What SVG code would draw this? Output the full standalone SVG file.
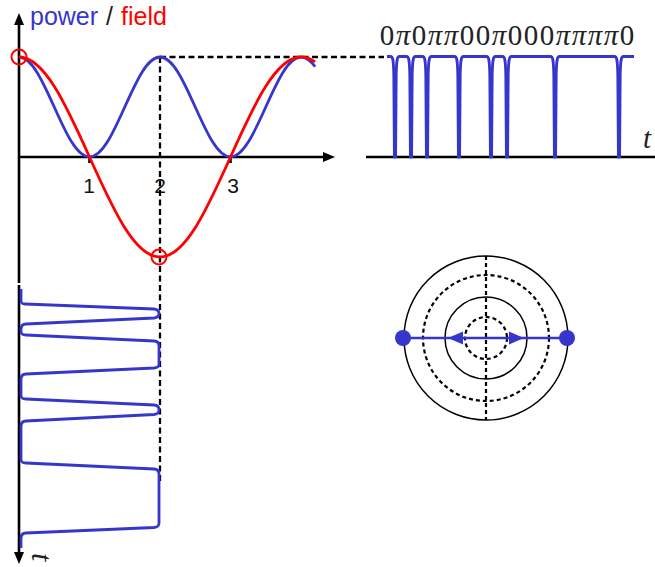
<svg xmlns="http://www.w3.org/2000/svg" width="655" height="567" viewBox="0 0 655 567">
<style>
.axis{stroke:#000;stroke-width:2.6;fill:none}
.arr{fill:#000;stroke:none}
.dash{stroke:#000;stroke-width:2.3;stroke-dasharray:6 3.5;fill:none}
.blue{stroke:#3636cc;stroke-width:2.8;fill:none;stroke-linejoin:round}
.red{stroke:#ff0000;stroke-width:2.8;fill:none}
.thin{stroke:#000;stroke-width:1.5;fill:none}
.tdash{stroke:#000;stroke-width:2.2;stroke-dasharray:4 3;fill:none}
.sans{font-family:"Liberation Sans",Arial,sans-serif}
.math{font-family:"Liberation Serif","Times New Roman",serif;font-size:29px;fill:#222;text-anchor:middle}
.pi{font-style:italic}
.tick{font-family:"Liberation Sans",Arial,sans-serif;font-size:21px;fill:#111;text-anchor:middle}
</style>
<rect width="655" height="567" fill="#fff"/>

<g id="axes">
  <line class="axis" x1="19" y1="283" x2="19" y2="22"/>
  <polygon class="arr" points="19,13 14,25 24,25"/>
  <line class="axis" x1="19" y1="157" x2="326" y2="157"/>
  <polygon class="arr" points="335,157 323,152 323,162"/>
  <line class="axis" x1="366" y1="157" x2="655" y2="157"/>
  <line class="axis" x1="19" y1="285" x2="19" y2="555"/>
  <polygon class="arr" points="19,564 14,552 24,552"/>
  <line class="axis" x1="89.5" y1="157" x2="89.5" y2="163" stroke-width="1.5"/>
  <line class="axis" x1="230.5" y1="157" x2="230.5" y2="163" stroke-width="1.5"/>
  <text class="tick" x="89" y="193">1</text>
  <text class="tick" x="160" y="193">2</text>
  <text class="tick" x="233" y="193">3</text>
  <text class="math" x="647" y="148" font-style="italic" font-size="31">t</text>
  <text font-family="Liberation Serif, serif" font-style="italic" font-size="30" fill="#222" transform="translate(32,553) rotate(90)">t</text>
</g>

<g id="title">
  <text class="sans" font-size="25" y="25"><tspan x="30" fill="#3636cc">power</tspan><tspan x="106" fill="#222">/</tspan><tspan x="121" fill="#ff0000">field</tspan></text>
</g>

<g id="connectors">
  <line class="dash" x1="160" y1="57" x2="384" y2="57"/>
  <line class="dash" x1="160" y1="57" x2="160" y2="482"/>
</g>

<g id="power-curve">
  <path class="blue" d="M19,57 C31.62,57 42.47,80.74 54.25,107 C66.03,133.26 76.88,157 89.5,157 C102.12,157 112.97,133.26 124.75,107 C136.53,80.74 147.38,57 160,57 C172.62,57 183.47,80.74 195.25,107 C207.03,133.26 217.88,157 230.5,157 C243.12,157 253.97,133.26 265.75,107 C277.53,80.74 288.38,57 301,57 C305.7,57 310.4,60.4 315.1,66.55"/>
</g>

<g id="field-curve">
  <path class="red" d="M19,57 C44.25,57 65.93,104.49 89.5,157 C113.07,209.51 134.75,257 160,257 C185.25,257 206.93,209.49 230.5,157 C254.07,104.49 275.75,57 301,57 C305.7,57 310.4,58.67 315.1,61.9"/>
  <circle cx="19" cy="57" r="7.5" fill="none" stroke="#ff0000" stroke-width="2"/>
  <circle cx="159" cy="257" r="7.5" fill="none" stroke="#ff0000" stroke-width="2"/>
</g>

<g id="pulse-train-top">
  <path class="blue" d="M387,56.5 L390.5,56.5 C393,56.5 393.5,60 393.8,75 L394.4,157 L395.6,157 L396.2,75 C396.5,60 397,56.5 399.5,56.5 L406.5,56.5 C409,56.5 409.5,60 409.8,75 L410.4,157 L411.6,157 L412.2,75 C412.5,60 413,56.5 415.5,56.5 L422.5,56.5 C425,56.5 425.5,60 425.8,75 L426.4,157 L427.6,157 L428.2,75 C428.5,60 429,56.5 431.5,56.5 L454.5,56.5 C457,56.5 457.5,60 457.8,75 L458.4,157 L459.6,157 L460.2,75 C460.5,60 461,56.5 463.5,56.5 L486.5,56.5 C489,56.5 489.5,60 489.8,75 L490.4,157 L491.6,157 L492.2,75 C492.5,60 493,56.5 495.5,56.5 L502.5,56.5 C505,56.5 505.5,60 505.8,75 L506.4,157 L507.6,157 L508.2,75 C508.5,60 509,56.5 511.5,56.5 L550.5,56.5 C553,56.5 553.5,60 553.8,75 L554.4,157 L555.6,157 L556.2,75 C556.5,60 557,56.5 559.5,56.5 L614.5,56.5 C617,56.5 617.5,60 617.8,75 L618.4,157 L619.6,157 L620.2,75 C620.5,60 621,56.5 623.5,56.5 L634,56.5"/>
</g>

<g id="phase-labels">
  <text class="math" y="45"><tspan x="387">0</tspan><tspan x="403" class="pi">π</tspan><tspan x="419">0</tspan><tspan x="435" class="pi">π</tspan><tspan x="451" class="pi">π</tspan><tspan x="467">0</tspan><tspan x="483">0</tspan><tspan x="499" class="pi">π</tspan><tspan x="515">0</tspan><tspan x="531">0</tspan><tspan x="547">0</tspan><tspan x="563" class="pi">π</tspan><tspan x="579" class="pi">π</tspan><tspan x="595" class="pi">π</tspan><tspan x="611" class="pi">π</tspan><tspan x="627">0</tspan></text>
</g>

<g id="pulse-train-left">
  <path class="blue" stroke-width="2.4" d="M21,289 L21,300 C21,303 22,304 25,304 L154,309 C158,309.5 159,311 159,313.5 C159,316 158,317.5 154,318 L26,324 C22,324.3 21,326 21,329 L21,331 C21,334 22,335 26,335 L154,341 C158,341.3 159,343 159,346 L159,364 C159,366.5 158,367.5 154,368 L26,374 C22,374.3 21,376 21,379 L21,395 C21,398 22,399 26,399 L154,405 C158,405.3 159,407 159,409.5 C159,412.5 158,414 154,414.5 L26,421 C22,421.3 21,423 21,426 L21,459 C21,462 22,463 26,463 L154,469 C158,469.3 159,471 159,474 L159,523 C159,526 158,527 154,527.5 L26,533 C22,533.3 21,535 21,538 L21,548"/>
</g>

<g id="circle-diagram">
  <circle class="thin" cx="486" cy="338" r="82"/>
  <circle class="tdash" cx="486" cy="338" r="63"/>
  <circle class="thin" cx="486" cy="338" r="41"/>
  <circle class="tdash" cx="486" cy="338" r="21"/>
  <line class="tdash" x1="486" y1="256" x2="486" y2="420"/>
  <line stroke="#3636cc" stroke-width="2.5" x1="403" y1="338" x2="567" y2="338"/>
  <polygon fill="#3636cc" points="448,338 463,331.5 463,344.5"/>
  <polygon fill="#3636cc" points="524,338 509,331.5 509,344.5"/>
  <circle cx="403" cy="338" r="8" fill="#3636cc"/>
  <circle cx="567" cy="338" r="8" fill="#3636cc"/>
</g>
</svg>
